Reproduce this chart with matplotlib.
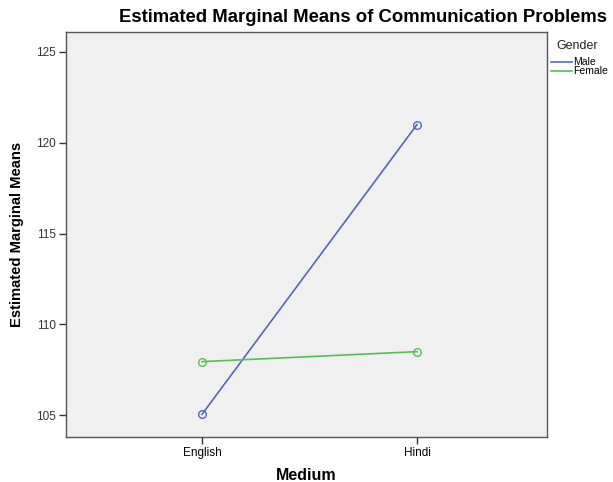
import matplotlib
matplotlib.use("Agg")
import matplotlib.pyplot as plt

categories = ["English", "Hindi"]
male = [105.05, 121.0]
female = [107.95, 108.5]
yticks = [105, 110, 115, 120, 125]

fig = plt.figure(figsize=(6.13, 4.82), dpi=100)
ax = fig.add_axes([66/613, 1-437/482, 481/613, 405/482])
ax.set_facecolor("#f0f0f0")
x = [0, 1]
ax.plot(x, male, color="#5567b5", lw=1.2, marker="o", mfc="none", mec="#5567b5", ms=5.5, mew=1.0)
ax.plot(x, female, color="#55c055", lw=1.2, marker="o", mfc="none", mec="#55c055", ms=5.5, mew=1.0)
ax.set_xlim(-0.633, 1.605)
ax.set_ylim(103.8, 126.1)
ax.set_xticks(x)
ax.set_xticklabels(categories, fontsize=8.5, family="Liberation Sans")
ax.set_yticks(yticks)
ax.set_yticklabels([str(v) for v in yticks], fontsize=8.5, family="Liberation Sans", color="#333333")
for s in ax.spines.values():
    s.set_color("#555555")
    s.set_linewidth(1.0)
ax.tick_params(axis="both", length=5, width=1, color="#333333", pad=2)
ax.set_ylabel("Estimated Marginal Means", fontsize=10.6, fontweight="bold", family="Liberation Sans", labelpad=9)
ax.set_xlabel("Medium", fontsize=11.5, fontweight="bold", family="Liberation Sans", labelpad=7)
fig.text(363/613, 1-17/482, "Estimated Marginal Means of Communication Problems",
         ha="center", va="center", fontsize=13.3, fontweight="bold", family="Liberation Sans")
fig.text(556/613, 1-46/482, "Gender", fontsize=9, family="Liberation Sans", va="center", color="#222222")
fig.lines.append(plt.Line2D([551/613, 572/613], [1-62/482, 1-62/482], color="#5567b5", lw=1.2, transform=fig.transFigure))
fig.lines.append(plt.Line2D([551/613, 572/613], [1-71/482, 1-71/482], color="#55c055", lw=1.2, transform=fig.transFigure))
fig.text(573/613, 1-62/482, "Male", fontsize=7.5, family="Liberation Sans", va="center")
fig.text(573/613, 1-71/482, "Female", fontsize=7.5, family="Liberation Sans", va="center")
fig.savefig("out.png", dpi=100, facecolor="white")
